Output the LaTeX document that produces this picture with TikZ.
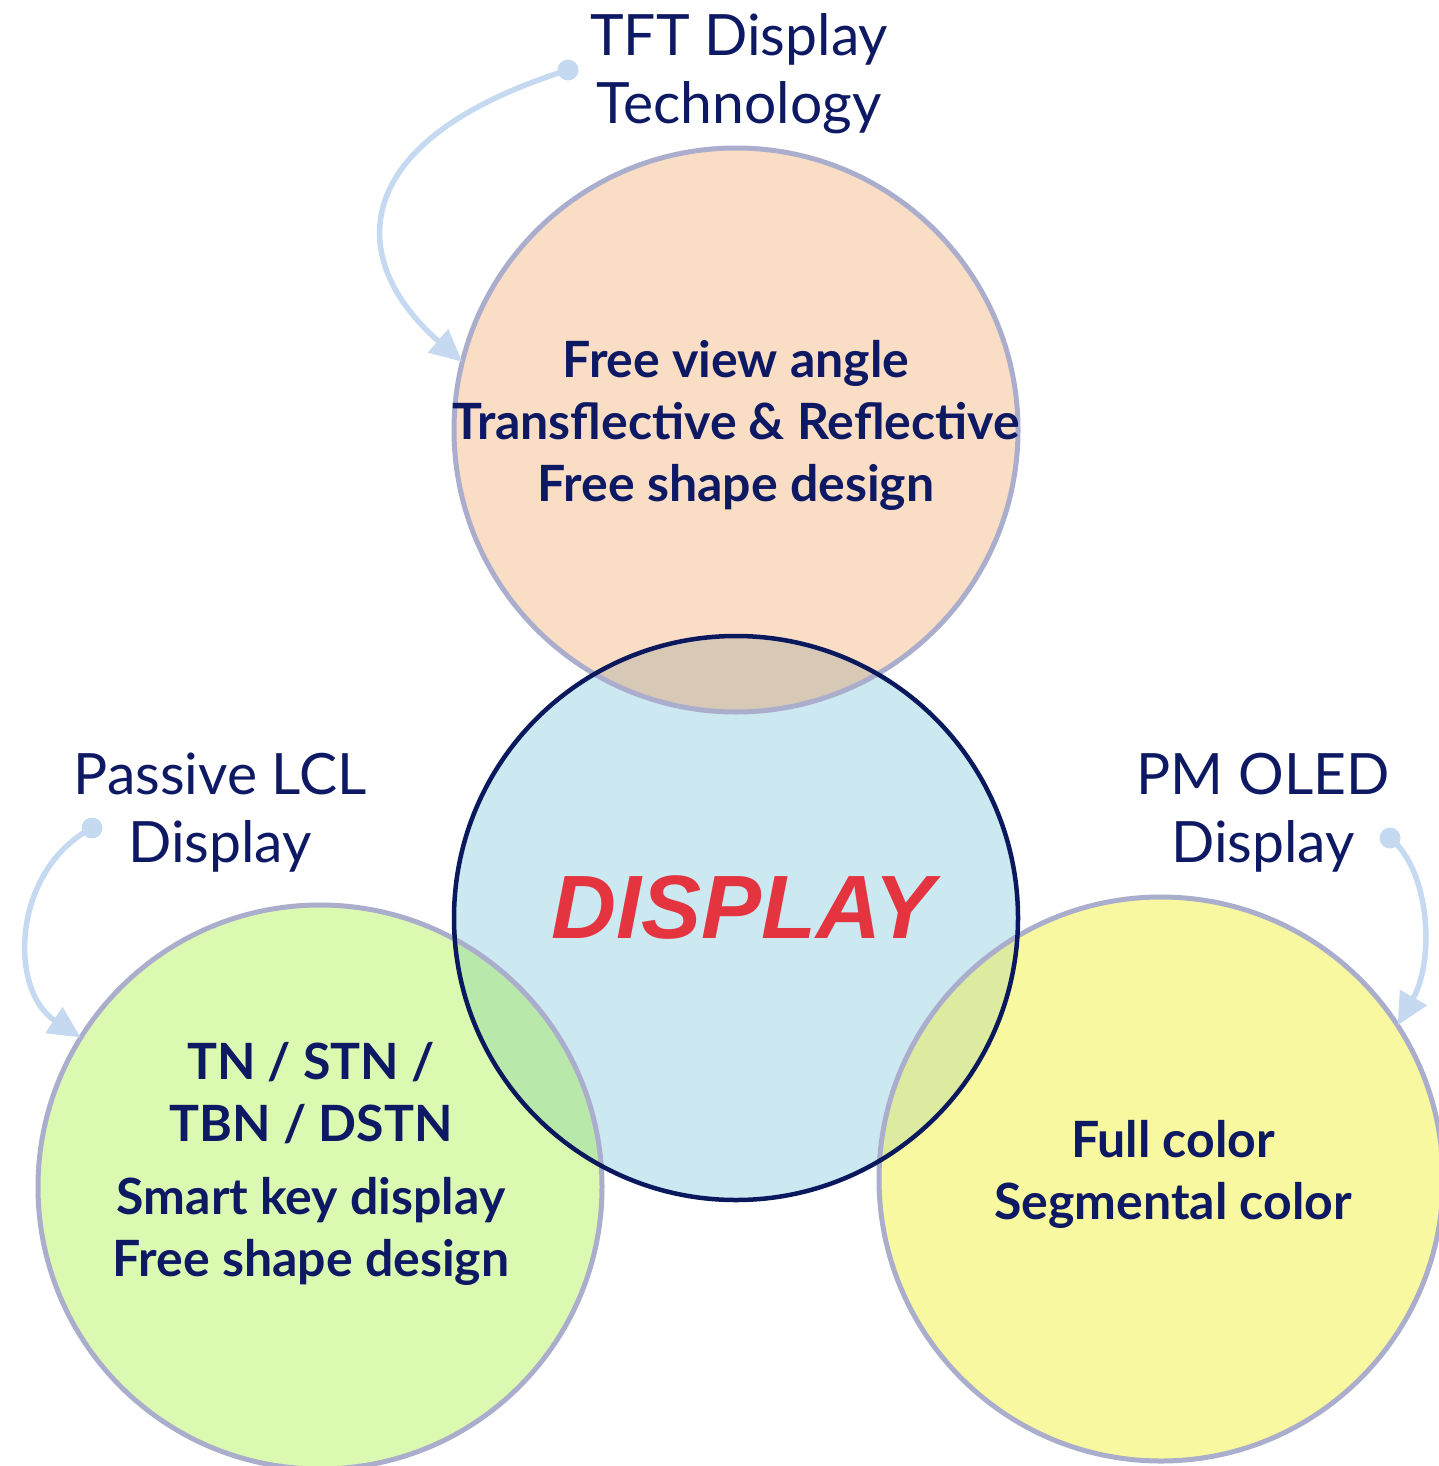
\documentclass[tikz,border=0pt]{standalone}
\usepackage{fontspec}
\usetikzlibrary{arrows.meta}
\setmainfont{Lato}
\newfontfamily\arialfont{Liberation Sans}
\definecolor{navytext}{RGB}{14,25,99}
\definecolor{peach}{RGB}{250,221,197}
\definecolor{skyblue}{RGB}{204,232,241}
\definecolor{limegreen}{RGB}{220,249,178}
\definecolor{paleyellow}{RGB}{248,248,160}
\definecolor{peachblue}{RGB}{215,201,182}
\definecolor{limeblue}{RGB}{184,232,170}
\definecolor{yellowblue}{RGB}{221,235,160}
\definecolor{ringgrey}{RGB}{170,174,204}
\definecolor{ringnavy}{RGB}{10,24,94}
\definecolor{arrowblue}{RGB}{197,218,240}
\definecolor{displayred}{RGB}{228,52,64}

\begin{document}
\begin{tikzpicture}[x=1pt,y=-1pt,
  bubble/.style={circle,minimum size=564pt,inner sep=0pt},
  ringline/.style={ringgrey,line width=5pt},
  title/.style={text=navytext,align=center,font=\fontsize{57}{68}\selectfont},
  inside/.style={text=navytext,align=center,font=\bfseries\fontsize{50}{62}\selectfont},
  pointer/.style={arrowblue,line width=5.5pt,-{Triangle[length=32pt,width=30pt]}},
  dot/.style={circle,fill=arrowblue,minimum size=21pt,inner sep=0pt}]
  \useasboundingbox (0,0) rectangle (1438,1466);
  \node[bubble,fill=peach] (tft) at (736,430) {};
  \node[bubble,fill=skyblue] (disp) at (736,918) {};
  \node[bubble,fill=limegreen] (lcd) at (320,1187) {};
  \node[bubble,fill=paleyellow] (oled) at (1161,1179) {};
  \begin{scope}
    \clip (disp.center) circle[radius=282];
    \fill[peachblue] (tft.center) circle[radius=282];
    \fill[limeblue] (lcd.center) circle[radius=282];
    \fill[yellowblue] (oled.center) circle[radius=282];
  \end{scope}
  \draw[ringline] (tft.center) circle[radius=282];
  \draw[ringline] (lcd.center) circle[radius=282];
  \draw[ringline] (oled.center) circle[radius=282];
  \draw[ringnavy,line width=4.5pt] (disp.center) circle[radius=282];
  \node[title] (tfttitle) at (739,74) {TFT Display\\Technology};
  \node[title] (lcdtitle) at (220,813) {Passive LCL\\Display};
  \node[title] (oledtitle) at (1263,813) {PM OLED\\Display};
  \node[inside] (tfttext) at (736,425) {Free view angle\\Transflective \& Reflective\\Free shape design};
  \node[inside] (lcdtext) at (311,1164) {TN / STN /\\TBN / DSTN\\[11pt]Smart key display\\Free shape design};
  \node[inside] (oledtext) at (1173,1174) {Full color\\Segmental color};
  \node[text=displayred,font=\arialfont\bfseries\itshape\fontsize{90}{100}\selectfont] (disptext) at (743,908) {DISPLAY};
  \node[dot] (tftdot) at (568,70) {};
  \node[dot] (lcddot) at (92,828) {};
  \node[dot] (oleddot) at (1390,838) {};
  \draw[pointer] (tftdot.center) .. controls (345,140) and (345,260) .. (tft.166);
  \draw[pointer] (lcddot.center) .. controls (12,870) and (8,990) .. (lcd.148);
  \draw[pointer] (oleddot.center) .. controls (1430,870) and (1435,960) .. (oled.33);
\end{tikzpicture}
\end{document}
